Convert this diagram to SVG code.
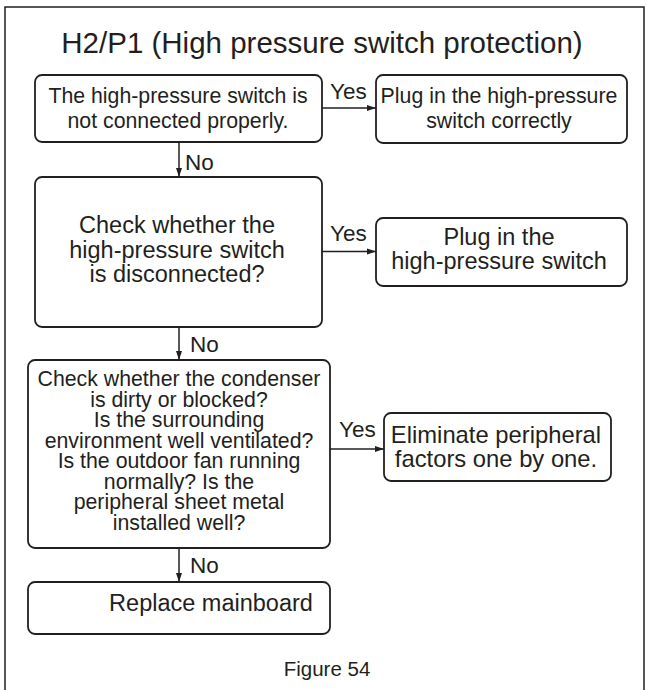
<svg xmlns="http://www.w3.org/2000/svg" width="648" height="690" viewBox="0 0 648 690">
<defs>
<style>
.box{fill:#fff;stroke:#231f20;stroke-width:1.8}
.t{font-family:"Liberation Sans",Arial,sans-serif;fill:#231f20;text-anchor:middle}
.lbl{font-family:"Liberation Sans",Arial,sans-serif;fill:#231f20;font-size:22.5px}
.ln{stroke:#231f20;stroke-width:1.5;fill:none}
</style>
<marker id="ah" markerWidth="10" markerHeight="8" refX="9" refY="4" orient="auto" markerUnits="userSpaceOnUse">
<path d="M0,1 L9,4 L0,7 Z" fill="#231f20"/>
</marker>
</defs>
<rect width="648" height="690" fill="#fff"/>
<path d="M5,700 V7 H644 V700" fill="none" stroke="#231f20" stroke-width="1.5"/>
<text class="t" x="322" y="53" font-size="29.5">H2/P1 (High pressure switch protection)</text>

<g id="n1">
<rect class="box" x="35" y="75" width="287" height="67" rx="7"/>
<text class="t" x="178" y="103" font-size="21.3">The high-pressure switch is</text>
<text class="t" x="178" y="128" font-size="21.3">not connected properly.</text>
</g>
<g id="n2">
<rect class="box" x="376" y="75" width="251" height="68" rx="7"/>
<text class="t" x="499" y="103" font-size="21.3">Plug in the high-pressure</text>
<text class="t" x="499" y="128" font-size="21.3">switch correctly</text>
</g>
<g id="n3">
<rect class="box" x="35" y="177" width="287" height="150" rx="7"/>
<text class="t" x="177" y="233" font-size="23.5">Check whether the</text>
<text class="t" x="177" y="258" font-size="23.5">high-pressure switch</text>
<text class="t" x="177" y="282" font-size="23.5">is disconnected?</text>
</g>
<g id="n4">
<rect class="box" x="376" y="218" width="251" height="68" rx="7"/>
<text class="t" x="499" y="245" font-size="23.5">Plug in the</text>
<text class="t" x="499" y="269" font-size="23.5">high-pressure switch</text>
</g>
<g id="n5">
<rect class="box" x="28" y="360" width="302" height="188" rx="7"/>
<text class="t" x="179" y="386" font-size="21.3">Check whether the condenser</text>
<text class="t" x="179" y="406.5" font-size="21.3">is dirty or blocked?</text>
<text class="t" x="179" y="427" font-size="21.3">Is the surrounding</text>
<text class="t" x="179" y="447.5" font-size="21.3">environment well ventilated?</text>
<text class="t" x="179" y="468" font-size="21.3">Is the outdoor fan running</text>
<text class="t" x="179" y="488.5" font-size="21.3">normally? Is the</text>
<text class="t" x="179" y="509" font-size="21.3">peripheral sheet metal</text>
<text class="t" x="179" y="529.5" font-size="21.3">installed well?</text>
</g>
<g id="n6">
<rect class="box" x="384" y="413" width="227" height="68" rx="7"/>
<text class="t" x="496" y="443" font-size="23.8">Eliminate peripheral</text>
<text class="t" x="496" y="467" font-size="23.8">factors one by one.</text>
</g>
<g id="n7">
<rect class="box" x="28" y="582" width="302" height="52" rx="7"/>
<text class="t" x="211" y="611" font-size="23.5">Replace mainboard</text>
</g>

<g id="connectors">
<line class="ln" x1="322" y1="108" x2="376" y2="108" marker-end="url(#ah)"/>
<text class="lbl" x="330" y="99">Yes</text>
<line class="ln" x1="179" y1="142" x2="179" y2="177" marker-end="url(#ah)"/>
<text class="lbl" x="185" y="170">No</text>
<line class="ln" x1="322" y1="251.5" x2="376" y2="251.5" marker-end="url(#ah)"/>
<text class="lbl" x="330" y="241">Yes</text>
<line class="ln" x1="179" y1="327" x2="179" y2="360" marker-end="url(#ah)"/>
<text class="lbl" x="190" y="352">No</text>
<line class="ln" x1="330" y1="449" x2="384" y2="449" marker-end="url(#ah)"/>
<text class="lbl" x="339" y="437">Yes</text>
<line class="ln" x1="179" y1="548" x2="179" y2="582" marker-end="url(#ah)"/>
<text class="lbl" x="190" y="573">No</text>
</g>
<text class="t" x="327" y="676" font-size="20.5">Figure 54</text>
</svg>
